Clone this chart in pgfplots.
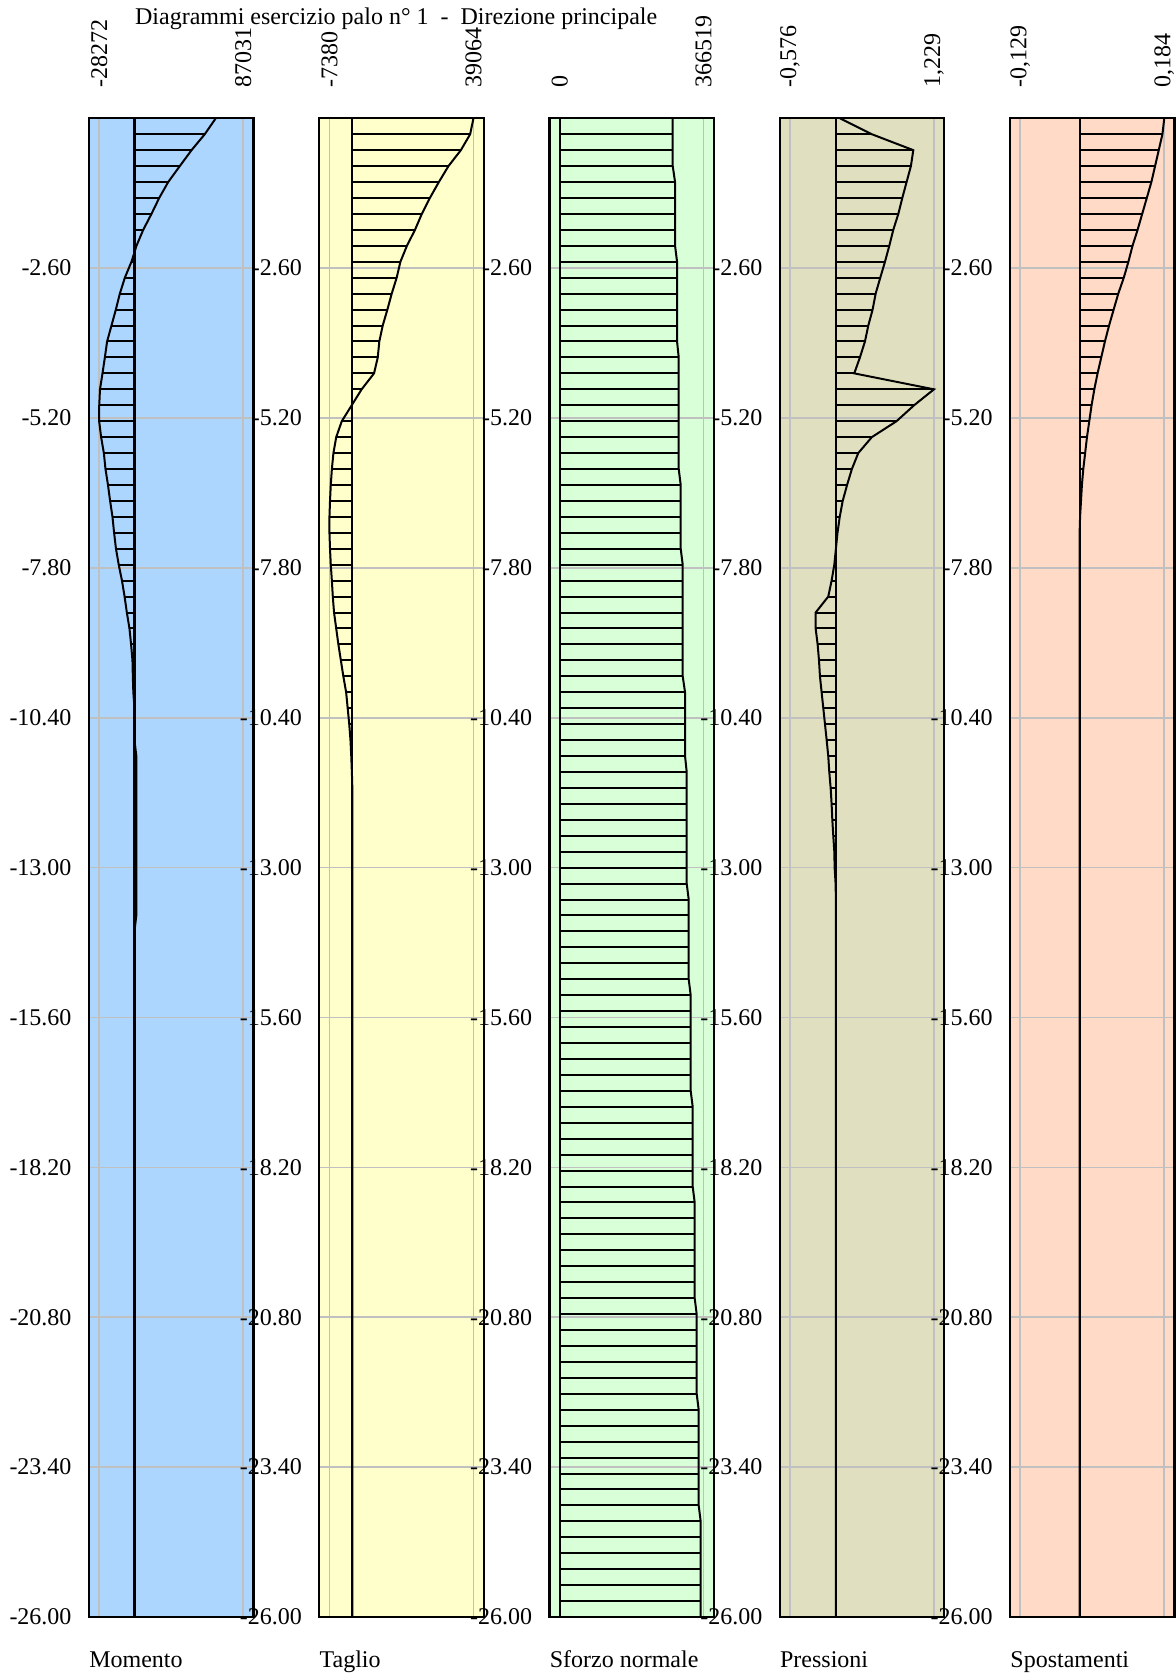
\documentclass[border=0pt]{standalone}
\usepackage{fontspec}
\setmainfont{Liberation Serif}
\usepackage{pgfplots}
\usepackage{pgfplotstable}
\pgfplotsset{compat=1.18}

\definecolor{bgM}{RGB}{173,214,255}
\definecolor{bgT}{RGB}{255,255,204}
\definecolor{bgN}{RGB}{217,255,217}
\definecolor{bgP}{RGB}{224,224,192}
\definecolor{bgS}{RGB}{255,218,199}
\definecolor{gridgray}{RGB}{192,192,192}

% Momento
\pgfplotstableread[row sep=\\]{
z v\\
0 65100\\ -0.2766 56300\\ -0.5532 45700\\ -0.8298 36300\\ -1.1064 27000\\
-1.3830 19800\\ -1.6596 13600\\ -1.9362 7000\\ -2.2128 1600\\ -2.4894 -2400\\
-2.7660 -7700\\ -3.0426 -11700\\ -3.3191 -14900\\ -3.5957 -18400\\ -3.8723 -21900\\
-4.1489 -23700\\ -4.4255 -25600\\ -4.7021 -27600\\ -4.9787 -28200\\ -5.2553 -28272\\
-5.5319 -26700\\ -5.8085 -24500\\ -6.0851 -23200\\ -6.3617 -21200\\ -6.6383 -19500\\
-6.9149 -17600\\ -7.1915 -16300\\ -7.4681 -14800\\ -7.7447 -12600\\ -8.0213 -10000\\
-8.2979 -7900\\ -8.5745 -6100\\ -8.8511 -4000\\ -9.1277 -2700\\ -9.4043 -1600\\
-9.6809 -1300\\ -9.9574 -900\\ -10.2340 0\\ -10.5106 0\\ -10.7872 0\\
-11.0638 1500\\ -11.3404 1500\\ -11.6170 1500\\ -11.8936 1500\\ -12.1702 1500\\
-12.4468 1500\\ -12.7234 1500\\ -13.0000 1500\\ -13.2766 1500\\ -13.5532 1500\\
-13.8298 1500\\ -14.1064 0\\ -26 0\\
}\tabM

% Taglio
\pgfplotstableread[row sep=\\]{
z v\\
0 39064\\ -0.2766 38000\\ -0.5532 35000\\ -0.8298 31000\\ -1.1064 27900\\
-1.3830 25000\\ -1.6596 22400\\ -1.9362 20200\\ -2.2128 17600\\ -2.4894 15500\\
-2.7660 14300\\ -3.0426 12700\\ -3.3191 11300\\ -3.5957 9800\\ -3.8723 8700\\
-4.1489 8200\\ -4.4255 7000\\ -4.7021 3000\\ -4.9787 -200\\ -5.2553 -3400\\
-5.5319 -5200\\ -5.8085 -6100\\ -6.0851 -6600\\ -6.3617 -6950\\ -6.6383 -7200\\
-6.9149 -7380\\ -7.1915 -7380\\ -7.4681 -7200\\ -7.7447 -6950\\ -8.0213 -6600\\
-8.2979 -6300\\ -8.5745 -5900\\ -8.8511 -5200\\ -9.1277 -4500\\ -9.4043 -3700\\
-9.6809 -2900\\ -9.9574 -2000\\ -10.2340 -1500\\ -10.5106 -1000\\ -10.7872 -600\\
-11.0638 -350\\ -11.3404 -150\\ -11.6170 0\\ -26 0\\
}\tabT

% Sforzo normale
\pgfplotstableread[row sep=\\]{
z v\\
0 287810\\ -0.2766 287810\\ -0.5532 287810\\ -0.8298 287810\\ -1.1064 293736\\
-1.3830 293736\\ -1.6596 293736\\ -1.9362 293736\\ -2.2128 293736\\ -2.4894 298815\\
-2.7660 298815\\ -3.0426 298815\\ -3.3191 298815\\ -3.5957 298815\\ -3.8723 298815\\
-4.1489 303047\\ -4.4255 303047\\ -4.7021 303047\\ -4.9787 303047\\ -5.2553 303047\\
-5.5319 303047\\ -5.8085 303047\\ -6.0851 303047\\ -6.3617 308126\\ -6.6383 308126\\
-6.9149 308126\\ -7.1915 308126\\ -7.4681 308126\\ -7.7447 313205\\ -8.0213 313205\\
-8.2979 313205\\ -8.5745 313205\\ -8.8511 313205\\ -9.1277 313205\\ -9.4043 313205\\
-9.6809 313205\\ -9.9574 319131\\ -10.2340 319131\\ -10.5106 319131\\ -10.7872 319131\\
-11.0638 319131\\ -11.3404 323363\\ -11.6170 323363\\ -11.8936 323363\\ -12.1702 323363\\
-12.4468 323363\\ -12.7234 323363\\ -13.0000 323363\\ -13.2766 323363\\ -13.5532 328442\\
-13.8298 328442\\ -14.1064 328442\\ -14.3830 328442\\ -14.6596 328442\\ -14.9362 328442\\
-15.2128 333521\\ -15.4894 333521\\ -15.7660 333521\\ -16.0426 333521\\ -16.3191 333521\\
-16.5957 333521\\ -16.8723 333521\\ -17.1489 338600\\ -17.4255 338600\\ -17.7021 338600\\
-17.9787 338600\\ -18.2553 338600\\ -18.5319 338600\\ -18.8085 343679\\ -19.0851 343679\\
-19.3617 343679\\ -19.6383 343679\\ -19.9149 343679\\ -20.1915 343679\\ -20.4681 343679\\
-20.7447 348758\\ -21.0213 348758\\ -21.2979 348758\\ -21.5745 348758\\ -21.8511 348758\\
-22.1277 348758\\ -22.4043 353837\\ -22.6809 353837\\ -22.9574 353837\\ -23.2340 353837\\
-23.5106 353837\\ -23.7872 353837\\ -24.0638 353837\\ -24.3404 358916\\ -24.6170 358916\\
-24.8936 358916\\ -25.1702 358916\\ -25.4468 358916\\ -25.7234 358916\\ -26.0000 358916\\
}\tabN

% Pressioni
\pgfplotstableread[row sep=\\]{
z v\\
0 0.05\\ -0.2766 0.45\\ -0.5532 0.97\\ -0.8298 0.94\\ -1.1064 0.886\\
-1.3830 0.832\\ -1.6596 0.782\\ -1.9362 0.719\\ -2.2128 0.669\\ -2.4894 0.615\\
-2.7660 0.556\\ -3.0426 0.498\\ -3.3191 0.460\\ -3.5957 0.406\\ -3.8723 0.364\\
-4.1489 0.301\\ -4.4255 0.230\\ -4.7021 1.229\\ -4.9787 0.98\\ -5.2553 0.76\\
-5.5319 0.45\\ -5.8085 0.28\\ -6.0851 0.20\\ -6.3617 0.14\\ -6.6383 0.085\\
-6.9149 0.048\\ -7.1915 0.02\\ -7.4681 0\\ -7.7447 -0.02\\ -8.0213 -0.054\\
-8.2979 -0.096\\ -8.5745 -0.254\\ -8.8511 -0.254\\ -9.1277 -0.229\\ -9.4043 -0.212\\
-9.6809 -0.200\\ -9.9574 -0.179\\ -10.2340 -0.158\\ -10.5106 -0.137\\ -10.7872 -0.116\\
-11.0638 -0.096\\ -11.3404 -0.083\\ -11.6170 -0.066\\ -11.8936 -0.054\\ -12.1702 -0.045\\
-12.4468 -0.033\\ -12.7234 -0.020\\ -13.0000 -0.016\\ -13.2766 -0.004\\ -13.5532 0\\
-26 0\\
}\tabP

% Spostamenti
\pgfplotstableread[row sep=\\]{
z v\\
0 0.184\\ -0.2766 0.180\\ -0.5532 0.172\\ -0.8298 0.164\\ -1.1064 0.156\\
-1.3830 0.146\\ -1.6596 0.136\\ -1.9362 0.126\\ -2.2128 0.115\\ -2.4894 0.106\\
-2.7660 0.096\\ -3.0426 0.084\\ -3.3191 0.074\\ -3.5957 0.064\\ -3.8723 0.055\\
-4.1489 0.047\\ -4.4255 0.039\\ -4.7021 0.032\\ -4.9787 0.026\\ -5.2553 0.021\\
-5.5319 0.016\\ -5.8085 0.012\\ -6.0851 0.008\\ -6.3617 0.005\\ -6.6383 0.003\\
-6.9149 0.001\\ -7.1915 0\\ -26 0\\
}\tabS

\pgfplotsset{
  pile/.style={
    scale only axis, width=82.25pt, height=749.35pt,
    anchor=south west,
    ymin=-26, ymax=0,
    axis background/.style={fill=#1},
    scaled x ticks=false, scaled y ticks=false,
    ytick={-2.6,-5.2,-7.8,-10.4,-13,-15.6,-18.2,-20.8,-23.4,-26},
    yticklabels={-2.60,-5.20,-7.80,-10.40,-13.00,-15.60,-18.20,-20.80,-23.40,-26.00},
    grid=major,
    major grid style={draw=gridgray, line width=0.8pt},
    major tick length=0pt,
    axis line style={black, line width=1.1pt},
    xticklabel pos=upper,
    xticklabel style={rotate=90, anchor=west, inner sep=0pt},
    xticklabel shift=15pt,
    yticklabel style={anchor=east, inner sep=0pt},
    yticklabel shift=8.5pt,
    tick label style={font=\fontsize{12}{14}\selectfont},
  },
  hatch/.style={black, line width=1pt, xcomb, forget plot},
  curve/.style={black, line width=1pt, sharp plot, mark=none},
  zeroline/.style={black, line width=1.1pt, mark=none},
}

\begin{document}
\fontsize{12pt}{14pt}\selectfont
\begin{tikzpicture}
\path[use as bounding box] (0,0) rectangle (588pt,839.5pt);

\node[anchor=base west, inner sep=0pt] at (67.35pt,827pt) {Diagrammi esercizio palo n° 1 \ - \ Direzione principale};

\begin{axis}[pile=bgM, at={(44.45pt,31pt)},
  xmin=-36481, xmax=95240, xtick={-28272,87031}, xticklabels={-28272,87031}]
\addplot[hatch] table[x=v,y=z]{\tabM};
\addplot[curve] table[x=v,y=z]{\tabM};
\addplot[zeroline] coordinates {(0,0) (0,-26)};
\end{axis}

\begin{axis}[pile=bgT, at={(159.6pt,31pt)},
  xmin=-10687, xmax=42371, xtick={-7380,39064}, xticklabels={-7380,39064}]
\addplot[hatch] table[x=v,y=z]{\tabT};
\addplot[curve] table[x=v,y=z]{\tabT};
\addplot[zeroline] coordinates {(0,0) (0,-26)};
\end{axis}

\begin{axis}[pile=bgN, at={(274.7pt,31pt)},
  xmin=-26096, xmax=392615, xtick={0,366519}, xticklabels={0,366519}]
\addplot[hatch] table[x=v,y=z]{\tabN};
\addplot[curve] table[x=v,y=z]{\tabN};
\addplot[zeroline] coordinates {(0,0) (0,-26)};
\end{axis}

\begin{axis}[pile=bgP, at={(389.85pt,31pt)},
  xmin=-0.7045, xmax=1.3575, xtick={-0.576,1.229}, xticklabels={{-0,576},{1,229}}]
\addplot[hatch] table[x=v,y=z]{\tabP};
\addplot[curve] table[x=v,y=z]{\tabP};
\addplot[zeroline] coordinates {(0,0) (0,-26)};
\end{axis}

\begin{axis}[pile=bgS, at={(505pt,31pt)},
  xmin=-0.15129, xmax=0.20629, xtick={-0.129,0.184}, xticklabels={{-0,129},{0,184}}]
\addplot[hatch] table[x=v,y=z]{\tabS};
\addplot[curve] table[x=v,y=z]{\tabS};
\addplot[zeroline] coordinates {(0,0) (0,-26)};
\end{axis}

\node[anchor=base west, inner sep=0pt] at (44.45pt,5.5pt) {Momento};
\node[anchor=base west, inner sep=0pt] at (159.6pt,5.5pt) {Taglio};
\node[anchor=base west, inner sep=0pt] at (274.7pt,5.5pt) {Sforzo normale};
\node[anchor=base west, inner sep=0pt] at (389.85pt,5.5pt) {Pressioni};
\node[anchor=base west, inner sep=0pt] at (505pt,5.5pt) {Spostamenti};
\end{tikzpicture}
\end{document}
